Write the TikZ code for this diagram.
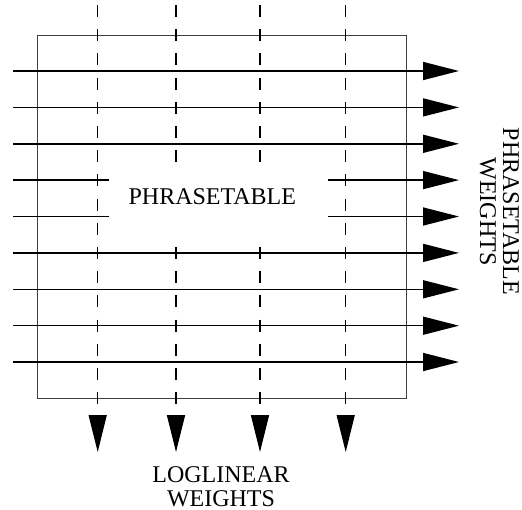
\documentclass[tikz,border=0pt]{standalone}
\usepackage{fontspec}
\setmainfont{Liberation Serif}
\usetikzlibrary{arrows.meta}
\begin{document}
\begin{tikzpicture}[x=1pt,y=-1pt,
  hline/.style={line width=1.5pt, line cap=butt},
  harrow/.style={hline, -{Triangle[length=36pt,width=18pt]}},
  vdash/.style={line width=1.5pt, dash pattern=on 12pt off 12.2pt},
  boxline/.style={line width=0.9pt, draw=black!75},
  lbl/.style={inner sep=0pt, align=center}]
\useasboundingbox (0,0) rectangle (522,509);
% frame
\coordinate (boxtl) at (37,35);
\coordinate (boxbr) at (406,398);
\draw[boxline] (boxtl) rectangle (boxbr);
% horizontal rows
\foreach \i/\y in {1/71,2/107.4,3/143.8,4/180.1,5/216.5,6/252.9,7/289.3,8/325.7,9/362} {
  \coordinate (L\i) at (13,\y);
  \coordinate (R\i) at (459,\y);
  \coordinate (Lm\i) at (108.7,\y);
  \coordinate (Rm\i) at (328,\y);
}
\foreach \i in {1,2,3,6,7,8,9} { \draw[harrow] (L\i) -- (R\i); }
\foreach \i in {4,5} {
  \draw[hline] (L\i) -- (Lm\i);
  \draw[harrow] (Rm\i) -- (R\i);
}
% dashed columns
\foreach \j/\x in {1/97.7,2/176,3/260,4/345.7} {
  \coordinate (T\j) at (\x,5);
  \coordinate (B\j) at (\x,404.2);
  \coordinate (Ga\j) at (\x,162.2);
  \coordinate (Gb\j) at (\x,247);
  \coordinate (D\j) at (\x,415);
  \coordinate (E\j) at (\x,452);
}
\foreach \j in {1,4} { \draw[vdash] (T\j) -- (B\j); }
\foreach \j in {2,3} {
  \draw[vdash] (T\j) -- (Ga\j);
  \draw[vdash] (Gb\j) -- (B\j);
}
\foreach \j in {1,2,3,4} {
  \fill ([xshift=-9.2pt]D\j) -- ([xshift=9.2pt]D\j) -- (E\j) -- cycle;
}
% labels
\node[lbl, anchor=base, font=\fontsize{24}{24}\selectfont] (ptable) at (212.3,204.3) {PHRASETABLE};
\node[lbl, anchor=base, rotate=-90, font=\fontsize{24}{23}\selectfont] (pweights) at (480,211.5) {PHRASETABLE\\WEIGHTS};
\node[lbl, anchor=base, text depth=0pt, font=\fontsize{24}{24}\selectfont] (lweights) at (221,506) {LOGLINEAR\\WEIGHTS};
\end{tikzpicture}
\end{document}
